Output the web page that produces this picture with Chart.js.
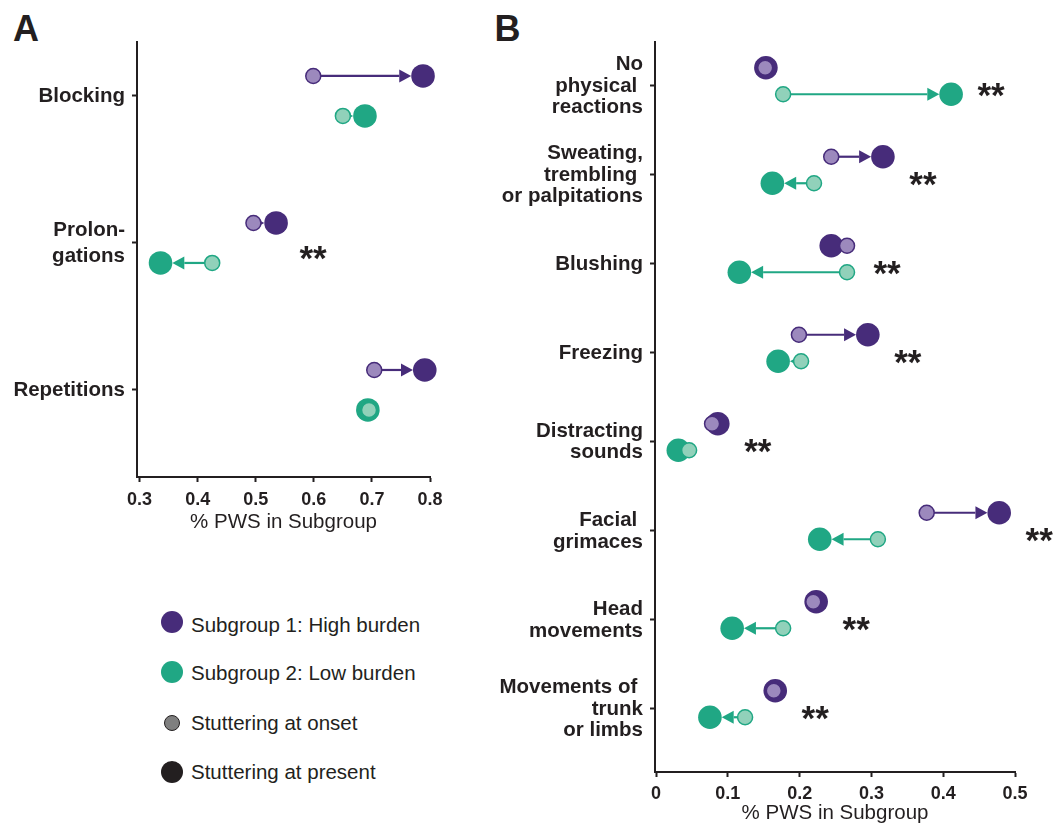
<!DOCTYPE html>
<html>
<head>
<meta charset="utf-8">
<title>PWS subgroups</title>
<script src="https://cdn.jsdelivr.net/npm/chart.js"></script>
<style>
  body { margin: 0; background: #fff; font-family: "Liberation Sans", Arial, sans-serif; color: #231f20; }
  #wrap { position: relative; width: 1054px; height: 828px; overflow: hidden; }
  canvas { position: absolute; }
  .panel { position: absolute; font-weight: bold; font-size: 36px; line-height: 36px; }
  .leg { position: absolute; left: 191px; font-size: 20.5px; line-height: 24px; white-space: nowrap; }
  .dot { position: absolute; border-radius: 50%; box-sizing: border-box; }
</style>
</head>
<body>
<div id="wrap">
  <div class="panel" style="left:13px;top:10.5px">A</div>
  <div class="panel" style="left:494.5px;top:10.5px">B</div>
  <canvas id="chartA" width="470" height="540" style="left:0;top:0"></canvas>
  <canvas id="chartB" width="564" height="828" style="left:490px;top:0"></canvas>

  <div class="dot" style="left:161px;top:611px;width:22px;height:22px;background:#472c7a"></div>
  <div class="leg" style="top:612.6px">Subgroup 1: High burden</div>
  <div class="dot" style="left:161px;top:661px;width:22px;height:22px;background:#20a784"></div>
  <div class="leg" style="top:661.4px">Subgroup 2: Low burden</div>
  <div class="dot" style="left:164px;top:715px;width:16px;height:16px;background:#7f7f7f;border:1.5px solid #231f20"></div>
  <div class="leg" style="top:711px">Stuttering at onset</div>
  <div class="dot" style="left:161px;top:761px;width:22px;height:22px;background:#231f20"></div>
  <div class="leg" style="top:760px">Stuttering at present</div>
</div>

<script>
// ---- panel A: stuttering type ----
const catsA = ['Blocking', ['Prolon-', 'gations'], 'Repetitions'];
const hiOnsetA   = [0.599, 0.496, 0.704];
const hiPresentA = [0.788, 0.535, 0.791];
const loOnsetA   = [0.650, 0.425, 0.695];
const loPresentA = [0.688, 0.336, 0.693];
const sigA = [false, true, false];
const ticksA = [0.3, 0.4, 0.5, 0.6, 0.7, 0.8];

// ---- panel B: physical concomitants ----
const catsB = [['No', 'physical ', 'reactions'], ['Sweating,', 'trembling ', 'or palpitations'],
  'Blushing', 'Freezing', ['Distracting', 'sounds'], ['Facial ', 'grimaces'],
  ['Head', 'movements'], ['Movements of ', 'trunk', 'or limbs']];
const hiOnsetB   = [0.152, 0.244, 0.266, 0.199, 0.078, 0.377, 0.219, 0.164];
const hiPresentB = [0.153, 0.316, 0.244, 0.295, 0.086, 0.478, 0.223, 0.166];
const loOnsetB   = [0.177, 0.220, 0.266, 0.202, 0.046, 0.309, 0.177, 0.124];
const loPresentB = [0.411, 0.162, 0.116, 0.170, 0.031, 0.228, 0.106, 0.075];
const sigB = [true, true, true, true, true, true, true, true];
const ticksB = [0, 0.1, 0.2, 0.3, 0.4, 0.5];

const ink = '#231f20';
const hiDark = '#472c7a', hiLight = '#9c89bd';
const loDark = '#20a784', loLight = '#91d1ba';
const fam = '"Liberation Sans", Arial, sans-serif';
const R_PR = 11.8, R_ON = 7.5, HEAD = 12;

// arrows onset -> present, and ** marks
function marks(c) {
  return {
    id: 'marks',
    beforeDatasetsDraw(chart) {
      const {ctx, scales: {x, y}} = chart;
      ctx.save();
      [[c.hiOn, c.hiPr, c.offHi, hiDark], [c.loOn, c.loPr, c.offLo, loDark]].forEach(([on, pr, off, col]) => {
        on.forEach((v, i) => {
          const x0 = x.getPixelForValue(v), x1 = x.getPixelForValue(pr[i]);
          const py = y.getPixelForValue(i + off);
          const d = x1 - x0, dir = Math.sign(d);
          if (Math.abs(d) <= R_PR + R_ON) return;
          const tip = x1 - dir * R_PR, base = tip - dir * HEAD;
          ctx.strokeStyle = col; ctx.fillStyle = col; ctx.lineWidth = 2.2;
          ctx.beginPath(); ctx.moveTo(x0, py); ctx.lineTo(base, py); ctx.stroke();
          ctx.beginPath(); ctx.moveTo(tip, py); ctx.lineTo(base, py - 6.5); ctx.lineTo(base, py + 6.5);
          ctx.closePath(); ctx.fill();
        });
      });
      ctx.restore();
    },
    afterDatasetsDraw(chart) {
      const {ctx, scales: {x, y}} = chart;
      ctx.save();
      ctx.font = 'bold 35px ' + fam;
      ctx.fillStyle = ink;
      ctx.textAlign = 'center';
      ctx.textBaseline = 'alphabetic';
      c.sig.forEach((s, i) => {
        if (!s) return;
        const mx = Math.max(c.hiOn[i], c.hiPr[i], c.loOn[i], c.loPr[i]);
        const px = x.getPixelForValue(mx) + c.starGap;
        const py = y.getPixelForValue(i) + c.starDy;
        ctx.fillText('**', px, py + 19);
      });
      ctx.restore();
    }
  };
}

function pts(vals, off) { return vals.map((v, i) => ({x: v, y: i + off})); }

function makeChart(id, c) {
  return new Chart(document.getElementById(id), {
    type: 'scatter',
    data: {
      datasets: [
        {data: pts(c.hiOn, c.offHi), pointRadius: R_ON, pointBackgroundColor: hiLight, pointBorderColor: hiDark, pointBorderWidth: 1.5},
        {data: pts(c.loOn, c.offLo), pointRadius: R_ON, pointBackgroundColor: loLight, pointBorderColor: loDark, pointBorderWidth: 1.5},
        {data: pts(c.hiPr, c.offHi), pointRadius: R_PR, pointBackgroundColor: hiDark, pointBorderWidth: 0},
        {data: pts(c.loPr, c.offLo), pointRadius: R_PR, pointBackgroundColor: loDark, pointBorderWidth: 0}
      ].map(d => Object.assign(d, {clip: false}))
    },
    options: {
      responsive: false,
      animation: false,
      events: [],
      layout: {padding: {top: 42, right: c.padRight, bottom: 0, left: 0}},
      plugins: {legend: {display: false}, tooltip: {enabled: false}},
      scales: {
        x: {
          type: 'linear', min: c.xMin, max: c.xMax,
          afterBuildTicks: s => { s.ticks = c.ticks.map(v => ({value: v})); },
          afterFit: s => { s.height = c.axisH; },
          border: {display: true, color: ink, width: 2},
          grid: {drawOnChartArea: false, drawTicks: true, tickLength: 5, tickWidth: 2, tickColor: ink},
          ticks: {color: ink, padding: c.tickPad, maxRotation: 0, font: {family: fam, size: 18, weight: 'bold'},
                  callback: v => String(v)},
          title: {display: true, text: '% PWS in Subgroup', color: ink, padding: {top: 0, bottom: c.titlePad},
                  font: {family: fam, size: 20.5}}
        },
        y: {
          type: 'linear', reverse: true, min: c.yMin, max: c.yMax,
          afterBuildTicks: s => { s.ticks = c.cats.map((_, i) => ({value: i})); },
          afterFit: s => { s.width = c.axisW; },
          border: {display: true, color: ink, width: 2},
          grid: {drawOnChartArea: false, drawTicks: true, tickLength: 5, tickWidth: 2, tickColor: ink},
          ticks: {color: ink, padding: 7, autoSkip: false,
                  font: {family: fam, size: 20.5, weight: 'bold', lineHeight: c.labelLH},
                  callback: v => c.cats[v]}
        }
      }
    },
    plugins: [marks(c)]
  });
}

makeChart('chartA', {
  cats: catsA, hiOn: hiOnsetA, hiPr: hiPresentA, loOn: loOnsetA, loPr: loPresentA, sig: sigA, ticks: ticksA,
  xMin: 0.2955, xMax: 0.8, yMin: -0.367, yMax: 2.592, offHi: -0.136, offLo: 0.136,
  axisW: 137, axisH: 63, padRight: 40, labelLH: 1.27, starGap: 37, starDy: 8, tickPad: 7, titlePad: 5
});

makeChart('chartB', {
  cats: catsB, hiOn: hiOnsetB, hiPr: hiPresentB, loOn: loOnsetB, loPr: loPresentB, sig: sigB, ticks: ticksB,
  xMin: -0.0015, xMax: 0.5, yMin: -0.494, yMax: 7.708, offHi: -0.205, offLo: 0.093,
  axisW: 165, axisH: 56, padRight: 39, labelLH: 1.06, starGap: 40, starDy: 2, tickPad: 6, titlePad: 2
});
</script>
</body>
</html>
